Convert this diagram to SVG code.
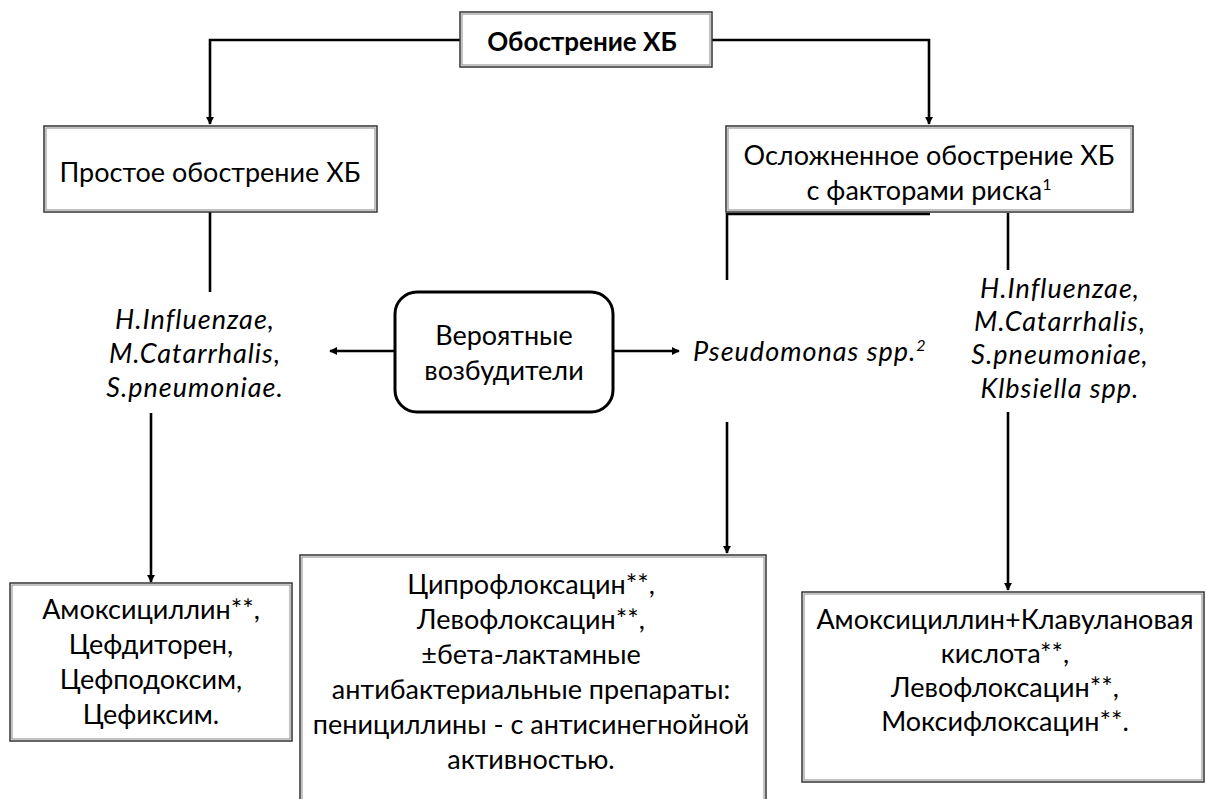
<svg xmlns="http://www.w3.org/2000/svg" width="1206" height="799" viewBox="0 0 1206 799">
<defs>
<marker id="ah" viewBox="0 0 10 10" refX="9" refY="5" markerWidth="3.2" markerHeight="3.2" orient="auto" markerUnits="strokeWidth">
<path d="M0,0 L10,5 L0,10 z" fill="#000"/>
</marker>
<style>
.box{fill:#fff;stroke:#333;stroke-width:1.5}
.inner{fill:none;stroke:#999;stroke-width:1.2}
.rbox{fill:#fff;stroke:#000;stroke-width:3}
.t{font-family:Lato,"Liberation Sans",sans-serif;font-size:27px;fill:#000;text-anchor:middle}
.b{font-weight:bold;font-size:26px}
.i{font-style:italic;letter-spacing:1px}
.c{fill:none;stroke:#000;stroke-width:2.6}
.a{marker-end:url(#ah)}
.sup{font-size:16px}
</style>
</defs>
<rect width="1206" height="799" fill="#fff"/>

<g id="connectors">
<polyline class="c a" points="460,40 210,40 210,124"/>
<polyline class="c a" points="712,40 929,40 929,124"/>
<polyline class="c" points="210,212 210,292"/>
<polyline class="c a" points="151,413 151,582"/>
<polyline class="c a" points="395,351 330,351"/>
<polyline class="c a" points="613,351 679,351"/>
<polyline class="c" points="930,214 727,214 727,280"/>
<polyline class="c" points="1008,213 1008,270"/>
<polyline class="c a" points="727,422 727,553"/>
<polyline class="c a" points="1008,412 1008,590"/>
</g>

<g id="n-top">
<rect class="box" x="460" y="12" width="252" height="55"/>
<rect class="inner" x="462" y="14" width="248" height="51"/>
<text class="t b" x="582" y="51">Обострение ХБ</text>
</g>

<g id="n-simple">
<rect class="box" x="44" y="126" width="333" height="86"/>
<rect class="inner" x="46" y="128" width="329" height="82"/>
<text class="t" x="210" y="182">Простое обострение ХБ</text>
</g>

<g id="n-complicated">
<rect class="box" x="726" y="126" width="407" height="86"/>
<rect class="inner" x="728" y="128" width="403" height="82"/>
<text class="t" x="929" y="165">Осложненное обострение ХБ</text>
<text class="t" x="929" y="200">с факторами риска<tspan class="sup" dy="-10">1</tspan></text>
</g>

<g id="n-left-pathogens">
<text class="t i" x="195" y="329">H.Influenzae,</text>
<text class="t i" x="195" y="363">M.Catarrhalis,</text>
<text class="t i" x="195" y="397">S.pneumoniae.</text>
</g>

<g id="n-probable">
<rect class="rbox" x="395" y="292" width="218" height="120" rx="22" ry="22"/>
<text class="t" x="504" y="345">Вероятные</text>
<text class="t" x="504" y="380">возбудители</text>
</g>

<g id="n-pseudomonas">
<text class="t i" x="693" y="361" style="text-anchor:start">Pseudomonas spp.<tspan class="sup" dy="-10">2</tspan></text>
</g>

<g id="n-right-pathogens">
<text class="t i" x="1060" y="298">H.Influenzae,</text>
<text class="t i" x="1060" y="331">M.Catarrhalis,</text>
<text class="t i" x="1060" y="364">S.pneumoniae,</text>
<text class="t i" x="1060" y="398">Klbsiella spp.</text>
</g>

<g id="n-amox">
<rect class="box" x="10" y="583" width="282" height="158"/>
<rect class="inner" x="12" y="585" width="278" height="154"/>
<text class="t" x="151" y="619">Амоксициллин**,</text>
<text class="t" x="151" y="654">Цефдиторен,</text>
<text class="t" x="151" y="689">Цефподоксим,</text>
<text class="t" x="151" y="724">Цефиксим.</text>
</g>

<g id="n-cipro">
<rect class="box" x="300" y="555" width="466" height="260"/>
<rect class="inner" x="302" y="557" width="462" height="256"/>
<text class="t" x="531" y="594">Ципрофлоксацин**,</text>
<text class="t" x="531" y="629">Левофлоксацин**,</text>
<text class="t" x="531" y="664">±бета-лактамные</text>
<text class="t" x="531" y="699">антибактериальные препараты:</text>
<text class="t" x="531" y="734">пенициллины - с антисинегнойной</text>
<text class="t" x="531" y="769">активностью.</text>
</g>

<g id="n-amoxclav">
<rect class="box" x="802" y="592" width="402" height="190"/>
<rect class="inner" x="804" y="594" width="398" height="186"/>
<text class="t" x="1005" y="629">Амоксициллин+Клавулановая</text>
<text class="t" x="1005" y="663">кислота**,</text>
<text class="t" x="1005" y="697">Левофлоксацин**,</text>
<text class="t" x="1005" y="731">Моксифлоксацин**.</text>
</g>
</svg>
